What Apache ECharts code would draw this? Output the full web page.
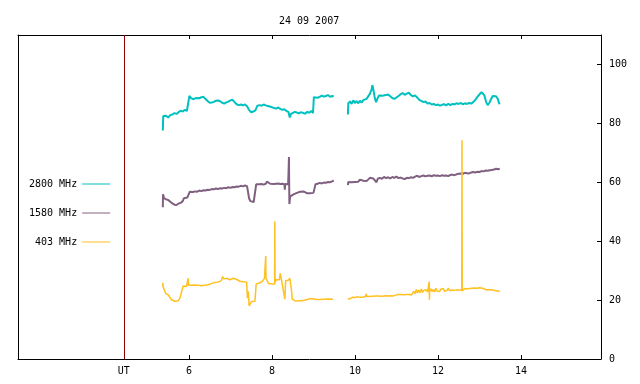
<!DOCTYPE html>
<html><head><meta charset="utf-8">
<script src="https://cdn.jsdelivr.net/npm/echarts@6/dist/echarts.min.js"></script>
<style>html,body{margin:0;padding:0;background:#fff}#c{width:640px;height:384px}</style>
</head><body><div id="c"></div><script>
const chartTitle = '24 09 2007';
const seriesNames = ['2800 MHz', '1580 MHz', '403 MHz'];
const seriesColors = ['#00c0c0', '#806080', '#ffc020'];
const xTickValues = [6, 8, 10, 12, 14];
const utMark = 4.43;
const xLabelValues = [utMark, 6, 8, 10, 12, 14];
const yTickValues = [0, 20, 40, 60, 80, 100];
const gapTime = 9.65;

// 2800 MHz
const t2800a = [5.37,5.38,5.40,5.45,5.50,5.55,5.60,5.65,5.70,5.75,
  5.80,5.85,5.90,5.95,5.99,6.01,6.05,6.10,6.15,6.20,
  6.25,6.30,6.35,6.40,6.45,6.50,6.55,6.60,6.65,6.70,
  6.75,6.80,6.85,6.90,6.95,7.00,7.05,7.10,7.15,7.20,
  7.25,7.30,7.35,7.40,7.45,7.50,7.55,7.60,7.65,7.70,
  7.75,7.80,7.85,7.90,7.95,8.00,8.05,8.10,8.15,8.20,
  8.25,8.30,8.35,8.40,8.43,8.46,8.50,8.55,8.60,8.65,
  8.70,8.75,8.80,8.85,8.90,8.95,8.99,9.01,9.05,9.10,
  9.15,9.20,9.25,9.30,9.35,9.40,9.45,9.49];
const v2800a = [77.6,82.5,82.0,82.6,82.0,82.8,83.0,83.5,83.2,83.8,
  84.3,84.0,84.6,84.2,84.0,89.3,88.6,88.2,88.5,88.6,
  88.5,88.9,89.0,88.3,87.6,87.0,87.1,87.3,87.7,87.8,
  87.5,87.0,86.7,87.1,87.4,87.8,88.0,87.2,86.5,86.2,
  86.4,86.1,86.4,85.8,84.5,83.8,84.0,84.4,86.0,86.2,
  86.0,86.4,86.1,85.9,85.7,85.5,85.2,85.0,85.4,84.9,
  84.6,84.8,84.2,83.8,82.0,83.2,83.5,83.9,83.7,83.4,
  83.8,83.5,83.3,83.9,83.6,84.2,83.5,88.9,89.5,88.7,
  89.0,89.4,89.1,89.3,89.6,89.0,89.3,89.1];
const t2800b = [9.83,9.84,9.88,9.92,9.96,10.00,10.04,10.08,10.12,10.16,
  10.20,10.24,10.28,10.32,10.36,10.40,10.42,10.45,10.48,10.51,
  10.54,10.58,10.62,10.66,10.70,10.75,10.80,10.85,10.90,10.95,
  11.00,11.05,11.10,11.15,11.20,11.25,11.30,11.35,11.40,11.45,
  11.50,11.55,11.60,11.65,11.70,11.75,11.80,11.85,11.90,11.95,
  12.00,12.05,12.10,12.15,12.20,12.25,12.30,12.35,12.40,12.45,
  12.50,12.55,12.60,12.65,12.70,12.75,12.80,12.85,12.90,12.95,
  13.00,13.05,13.08,13.12,13.16,13.20,13.24,13.28,13.32,13.36,
  13.40,13.44,13.47,13.49];
const v2800b = [83.0,86.8,87.5,86.6,87.8,86.9,87.6,86.8,87.7,87.0,
  87.9,87.3,88.3,88.6,90.0,91.5,93.0,91.0,88.5,87.2,
  88.3,89.5,89.8,89.4,89.0,89.6,89.8,89.2,88.6,88.3,
  88.8,89.3,89.9,90.3,89.7,90.1,90.4,89.6,89.2,89.5,
  88.8,88.0,87.6,87.2,87.4,86.7,86.9,86.4,86.6,86.2,
  86.4,86.0,86.3,86.5,86.1,86.6,86.2,86.6,86.5,86.8,
  86.6,86.9,86.5,86.8,86.6,86.9,86.7,87.2,88.0,89.0,
  89.8,90.6,90.8,89.5,87.3,86.2,87.0,88.2,89.3,89.6,
  89.2,88.4,87.0,86.5];

// 1580 MHz
const t1580a = [5.37,5.375,5.40,5.45,5.50,5.55,5.60,5.65,5.70,5.75,
  5.80,5.85,5.88,5.92,5.96,6.00,6.02,6.05,6.10,6.15,
  6.20,6.25,6.30,6.35,6.40,6.45,6.50,6.55,6.60,6.65,
  6.70,6.75,6.80,6.85,6.90,6.95,7.00,7.05,7.10,7.15,
  7.20,7.25,7.30,7.35,7.40,7.44,7.45,7.48,7.52,7.56,
  7.60,7.62,7.65,7.70,7.75,7.80,7.85,7.88,7.92,7.96,
  8.00,8.05,8.10,8.15,8.20,8.25,8.30,8.31,8.32,8.36,
  8.39,8.40,8.41,8.415,8.42,8.44,8.48,8.52,8.56,8.60,
  8.64,8.68,8.72,8.76,8.80,8.84,8.88,8.92,8.96,9.00,
  9.04,9.05,9.10,9.15,9.20,9.25,9.30,9.35,9.40,9.45,
  9.49];
const v1580a = [51.5,55.9,54.6,54.2,54.0,53.4,52.8,52.4,52.3,52.8,
  53.0,53.6,54.6,54.5,54.8,54.5,56.8,57.0,56.7,56.9,
  56.8,57.2,57.0,57.3,57.2,57.5,57.4,57.7,57.6,57.9,
  57.7,58.0,57.9,58.1,58.0,58.3,58.1,58.4,58.3,58.6,
  58.5,58.8,58.6,58.9,58.7,58.9,54.5,53.6,53.1,53.3,
  53.6,59.3,59.5,59.3,59.4,59.2,59.5,60.2,59.6,59.5,
  59.6,59.4,59.5,59.6,59.4,59.5,59.3,57.5,59.4,59.6,
  59.3,63.5,68.6,60.0,52.6,55.2,55.6,55.9,56.2,56.4,
  56.7,56.8,57.0,56.9,56.9,56.3,56.1,56.3,56.2,56.4,
  56.8,59.3,59.5,59.8,59.6,59.9,59.8,60.1,60.0,60.3,
  60.6];
const t1580b = [9.83,9.84,9.88,9.92,9.96,10.00,10.04,10.08,10.12,10.16,
  10.20,10.24,10.28,10.32,10.36,10.40,10.44,10.48,10.52,10.55,
  10.60,10.65,10.70,10.75,10.80,10.85,10.90,10.95,11.00,11.05,
  11.10,11.15,11.20,11.25,11.30,11.35,11.40,11.45,11.50,11.55,
  11.60,11.65,11.70,11.75,11.80,11.85,11.90,11.95,12.00,12.05,
  12.10,12.15,12.20,12.25,12.30,12.35,12.40,12.45,12.50,12.55,
  12.60,12.65,12.70,12.75,12.80,12.85,12.90,12.95,13.00,13.05,
  13.10,13.15,13.20,13.25,13.30,13.35,13.40,13.45,13.49];
const v1580b = [59.0,60.1,60.3,60.0,60.4,60.1,60.3,60.2,60.9,61.0,
  60.5,60.2,60.4,60.8,61.5,62.0,61.3,60.8,60.0,61.2,
  61.5,61.2,61.8,61.4,61.7,61.3,61.8,61.5,61.9,61.4,
  61.6,61.3,61.1,61.5,61.4,61.7,61.5,61.9,62.2,61.8,
  62.1,62.3,62.0,62.2,62.3,62.0,62.4,62.2,62.3,62.1,
  62.4,62.2,62.3,62.1,62.5,62.6,62.4,62.7,62.9,63.0,
  62.9,63.2,63.1,63.0,63.3,63.5,63.3,63.6,63.5,63.8,
  63.7,64.0,63.9,64.1,64.2,64.3,64.6,64.4,64.6];

// 403 MHz
const t403a = [5.37,5.372,5.375,5.38,5.44,5.50,5.54,5.58,5.62,5.66,
  5.70,5.74,5.78,5.80,5.82,5.86,5.90,5.94,5.97,5.98,
  5.99,6.02,6.06,6.10,6.14,6.18,6.22,6.26,6.30,6.34,
  6.38,6.42,6.46,6.50,6.54,6.58,6.62,6.66,6.70,6.74,
  6.78,6.81,6.84,6.88,6.91,6.95,6.99,7.03,7.07,7.11,
  7.15,7.19,7.23,7.27,7.31,7.35,7.39,7.41,7.43,7.45,
  7.48,7.51,7.55,7.59,7.61,7.62,7.66,7.70,7.74,7.78,
  7.82,7.845,7.85,7.855,7.88,7.92,7.96,8.00,8.04,8.065,
  8.07,8.075,8.10,8.14,8.18,8.20,8.24,8.28,8.31,8.33,
  8.35,8.39,8.43,8.45,8.47,8.49,8.52,8.55,8.60,8.65,
  8.70,8.75,8.80,8.85,8.91,8.95,9.00,9.07,9.15,9.25,
  9.35,9.47];
const v403a = [24.4,25.9,24.5,25.0,22.3,21.8,22.4,20.1,19.8,19.6,
  19.5,19.8,20.6,20.2,20.0,24.8,24.5,24.6,24.8,27.4,
  25.0,25.2,25.0,25.3,25.1,25.2,25.0,24.9,24.9,24.8,
  25.0,24.9,25.2,25.5,25.6,26.1,26.0,26.2,26.1,26.3,
  26.6,28.0,27.2,27.5,27.4,27.1,26.9,27.2,27.4,27.4,
  27.0,26.9,26.4,26.1,26.2,26.0,26.1,20.6,23.0,18.0,
  18.5,19.5,19.4,19.6,19.5,25.5,25.6,25.8,25.9,26.5,
  27.4,27.6,35.0,27.5,26.9,25.6,25.4,25.5,25.6,25.5,
  46.8,26.0,26.9,27.0,26.9,29.1,26.1,26.5,20.3,26.6,
  26.8,26.7,27.4,27.0,23.5,20.3,19.9,19.8,19.7,19.8,
  19.8,19.9,20.0,20.2,20.5,20.3,20.4,20.3,20.2,20.3,
  20.4,20.3];
const t403b = [9.83,9.90,9.95,10.00,10.05,10.11,10.15,10.20,10.25,10.27,
  10.29,10.35,10.40,10.45,10.50,10.55,10.59,10.65,10.70,10.75,
  10.80,10.85,10.91,10.97,11.03,11.10,11.17,11.24,11.31,11.36,
  11.39,11.42,11.45,11.48,11.51,11.54,11.57,11.60,11.63,11.66,
  11.69,11.72,11.75,11.78,11.79,11.795,11.80,11.83,11.86,11.89,
  11.92,11.95,11.98,12.01,12.04,12.07,12.10,12.13,12.16,12.19,
  12.22,12.25,12.28,12.31,12.34,12.37,12.40,12.43,12.46,12.49,
  12.52,12.55,12.575,12.58,12.585,12.61,12.64,12.67,12.70,12.73,
  12.76,12.79,12.82,12.85,12.88,12.91,12.94,12.97,13.00,13.04,
  13.08,13.12,13.16,13.20,13.24,13.28,13.32,13.36,13.40,13.44,
  13.49];
const v403b = [20.3,20.6,21.0,20.9,21.1,21.0,21.1,21.0,21.2,22.1,
  21.2,21.2,21.3,21.3,21.4,21.4,21.4,21.3,21.4,21.5,
  21.4,21.5,21.4,21.6,21.9,21.9,21.8,21.9,21.9,21.7,
  22.1,23.0,22.2,23.6,22.4,23.4,22.5,23.8,22.6,23.3,
  22.8,23.5,22.7,23.2,26.3,20.1,23.0,23.8,22.9,23.6,
  22.8,24.0,23.1,23.5,22.9,23.7,23.2,23.9,23.0,23.6,
  23.3,24.1,23.2,23.8,23.4,24.0,23.3,23.9,23.5,23.8,
  23.4,23.7,23.3,74.3,23.1,23.6,23.9,24.1,23.8,24.3,
  23.9,24.4,24.0,24.5,24.1,24.3,24.0,24.4,24.2,23.8,
  24.0,23.6,23.5,23.9,23.5,23.7,23.4,23.6,23.2,23.0,
  22.9];

const FONT = 'DejaVu Sans Mono';
const lineWidths = [2, 2, 1.5];
function pairs(t, v) { return t.map((x, i) => [x, v[i]]); }
function joined(ta, va, tb, vb) { return pairs(ta, va).concat([[gapTime, null]], pairs(tb, vb)); }
const seriesData = [
  joined(t2800a, v2800a, t2800b, v2800b),
  joined(t1580a, v1580a, t1580b, v1580b),
  joined(t403a, v403a, t403b, v403b)
];

const chart = echarts.init(document.getElementById('c'), null, {renderer: 'canvas'});
const axisLine = {show: true, onZero: false, lineStyle: {color: '#000', width: 1}};
const xMin = 1.88, xMax = 15.93;
chart.setOption({
  animation: false,
  backgroundColor: '#fff',
  title: {text: chartTitle, left: 279, top: 15, padding: 0,
    textStyle: {fontFamily: FONT, fontSize: 10, fontWeight: 'normal', color: '#000', lineHeight: 12}},
  grid: {left: 18, right: 39, top: 35, bottom: 25},
  legend: {orient: 'vertical', left: 29, top: 177, align: 'right', padding: 0,
    icon: 'rect', itemWidth: 28, itemHeight: 1, itemGap: 15, data: seriesNames,
    textStyle: {fontFamily: FONT, fontSize: 10, color: '#000', lineHeight: 14}},
  xAxis: [
    {type: 'value', min: xMin, max: xMax, position: 'bottom', axisLine: axisLine,
      axisTick: {show: true, inside: true, length: 4, customValues: xTickValues, lineStyle: {color: '#000'}},
      axisLabel: {customValues: xLabelValues, margin: 7, color: '#000', fontFamily: FONT, fontSize: 10,
        formatter: v => Math.abs(v - utMark) < 1e-6 ? 'UT' : String(v)},
      splitLine: {show: false}},
    {type: 'value', min: xMin, max: xMax, position: 'top', axisLine: axisLine,
      axisTick: {show: true, inside: true, length: 4, customValues: xTickValues, lineStyle: {color: '#000'}},
      axisLabel: {show: false}, splitLine: {show: false}}
  ],
  yAxis: [
    {type: 'value', min: 0, max: 110, position: 'left', axisLine: axisLine,
      axisTick: {show: false}, axisLabel: {show: false}, splitLine: {show: false}},
    {type: 'value', min: 0, max: 110, position: 'right', axisLine: axisLine,
      axisTick: {show: true, inside: true, length: 4, customValues: yTickValues, lineStyle: {color: '#000'}},
      axisLabel: {customValues: yTickValues, margin: 8, color: '#000', fontFamily: FONT, fontSize: 10},
      splitLine: {show: false}}
  ],
  series: seriesNames.map((name, i) => ({
    name: name, type: 'line', xAxisIndex: 0, yAxisIndex: 1,
    data: seriesData[i], showSymbol: false, symbol: 'none', connectNulls: false,
    color: seriesColors[i], lineStyle: {color: seriesColors[i], width: lineWidths[i]},
    emphasis: {disabled: true}, silent: true,
    markLine: i === 0 ? {silent: true, symbol: 'none', label: {show: false},
      lineStyle: {color: '#900000', type: 'solid', width: 1},
      data: [{xAxis: utMark}]} : undefined
  }))
});
</script></body></html>
